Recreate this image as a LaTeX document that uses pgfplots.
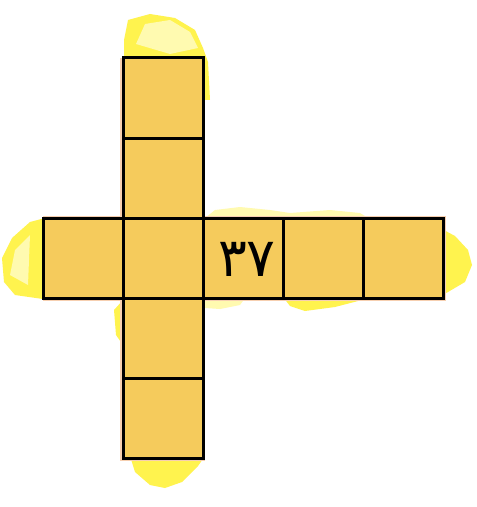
\documentclass[border=0pt]{standalone}
\usepackage{pgfplots}
\pgfplotsset{compat=1.18}
\usepackage{fontspec}
\newfontfamily\arabicfont[Script=Arabic]{DejaVu Sans}
\definecolor{gold}{HTML}{F5CB5C}
\definecolor{pinkish}{HTML}{F6CFB0}
\definecolor{ylw}{HTML}{FFF34E}
\definecolor{lylw}{HTML}{FFFAB0}
\begin{document}
\begin{tikzpicture}
\begin{axis}[
  width=477bp, height=507bp, scale only axis,
  xmin=0, xmax=477, ymin=0, ymax=507, y dir=reverse,
  hide axis, clip=false]
% background frame
\addplot[draw=none, fill=white] coordinates {(0,0) (477,0) (477,507) (0,507)} -- cycle;
% yellow brush strokes
\addplot[draw=none, fill=ylw] coordinates {(124,60) (124,40) (128,20) (150,14) (175,18) (195,30) (203,48) (208,62) (210,100) (203,100)} -- cycle;
\addplot[draw=none, fill=lylw] coordinates {(136,44) (145,24) (170,20) (190,32) (198,48) (170,54)} -- cycle;
\addplot[draw=none, fill=ylw] coordinates {(45,218) (30,222) (12,238) (2,258) (4,282) (15,295) (43,299)} -- cycle;
\addplot[draw=none, fill=lylw] coordinates {(30,235) (15,250) (10,275) (28,285)} -- cycle;
\addplot[draw=none, fill=lylw] coordinates {(205,218) (215,210) (240,207) (270,210) (290,213) (330,210) (360,213) (368,218)} -- cycle;
\addplot[draw=none, fill=ylw] coordinates {(440,228) (455,236) (468,250) (472,265) (465,282) (448,292) (440,296)} -- cycle;
\addplot[draw=none, fill=ylw] coordinates {(283,297) (290,306) (305,311) (335,307) (362,300)} -- cycle;
\addplot[draw=none, fill=lylw] coordinates {(203,297) (205,308) (220,309) (240,305) (245,298)} -- cycle;
\addplot[draw=none, fill=ylw] coordinates {(123,300) (114,310) (116,335) (123,345)} -- cycle;
\addplot[draw=none, fill=ylw] coordinates {(130,456) (135,472) (150,485) (165,488) (182,482) (198,466) (205,456)} -- cycle;
% pink under-layer
\addplot[draw=none, fill=pinkish] coordinates {(120,58) (205,58) (205,461) (120,461)} -- cycle;
\addplot[draw=none, fill=pinkish] coordinates {(43,216) (446,216) (446,301) (43,301)} -- cycle;
% squares: vertical column
\addplot[fill=gold, draw=black, line width=3bp] coordinates {(123,58) (203,58) (203,138) (123,138)} -- cycle;
\addplot[fill=gold, draw=black, line width=3bp] coordinates {(123,138) (203,138) (203,218) (123,218)} -- cycle;
\addplot[fill=gold, draw=black, line width=3bp] coordinates {(123,298) (203,298) (203,378) (123,378)} -- cycle;
\addplot[fill=gold, draw=black, line width=3bp] coordinates {(123,378) (203,378) (203,458) (123,458)} -- cycle;
% squares: horizontal row
\addplot[fill=gold, draw=black, line width=3bp] coordinates {(43,218) (123,218) (123,298) (43,298)} -- cycle;
\addplot[fill=gold, draw=black, line width=3bp] coordinates {(123,218) (203,218) (203,298) (123,298)} -- cycle;
\addplot[fill=gold, draw=black, line width=3bp] coordinates {(203,218) (283,218) (283,298) (203,298)} -- cycle;
\addplot[fill=gold, draw=black, line width=3bp] coordinates {(283,218) (363,218) (363,298) (283,298)} -- cycle;
\addplot[fill=gold, draw=black, line width=3bp] coordinates {(363,218) (443,218) (443,298) (363,298)} -- cycle;
% number
\node[anchor=center, inner sep=0pt] at (axis cs:247,259) {\arabicfont\fontsize{54}{58}\selectfont ٣٧};
\end{axis}
\end{tikzpicture}
\end{document}
